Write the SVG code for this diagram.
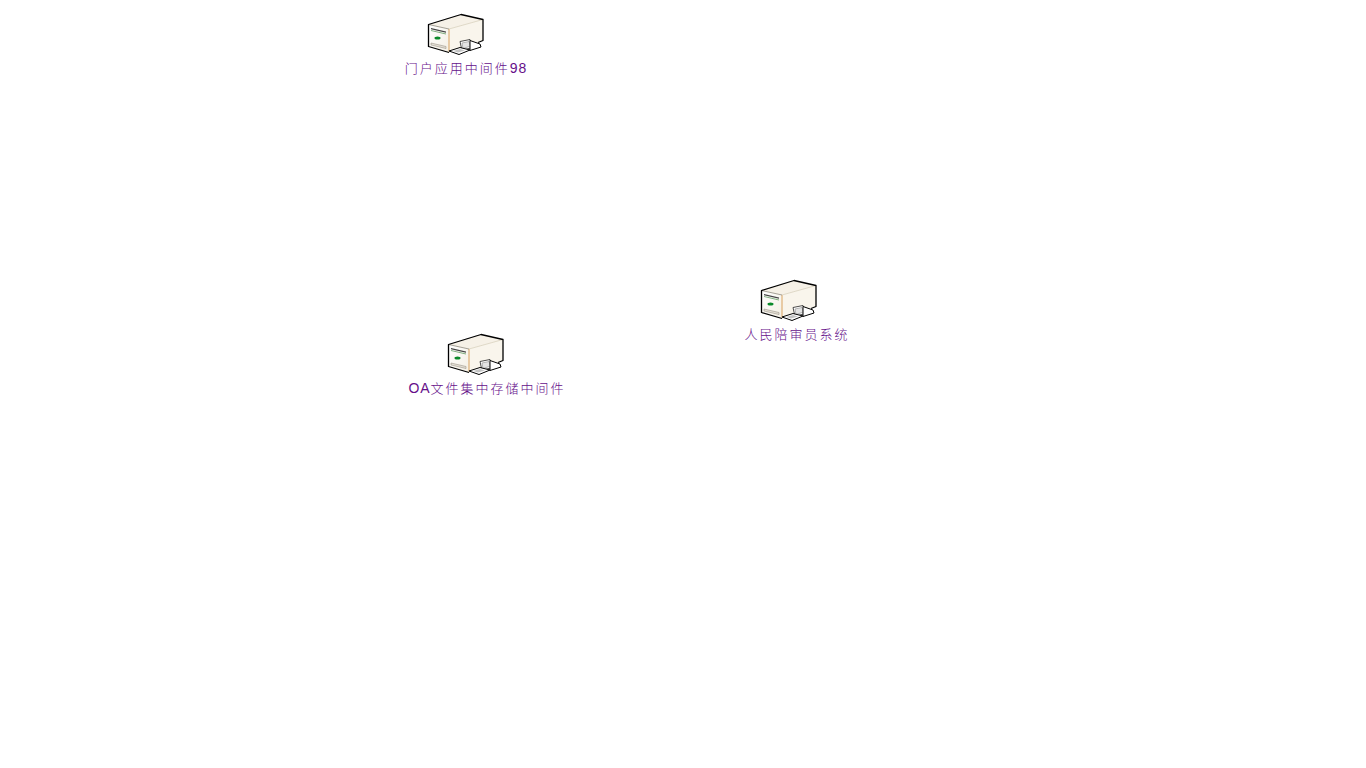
<svg xmlns="http://www.w3.org/2000/svg" width="1366" height="768" viewBox="0 0 1366 768">
<style>
.lbl{font-family:"Liberation Sans","Noto Sans CJK SC",sans-serif;font-size:13px;font-weight:300;letter-spacing:2px;fill:#660f8a;text-anchor:middle}
.lat{font-size:14px;letter-spacing:1px}
</style>
<defs>
<linearGradient id="f" x1="0" y1="0" x2="1" y2="1"><stop offset="0" stop-color="#fff"/><stop offset="1" stop-color="#f4efe4"/></linearGradient>
<g id="srv">
<path d="M0.500 11 L33 1 L55 6 L21 15.500 Z" fill="#f6f1e7"/>
<path d="M21 15.500 L55 6 L55 27 L21 39 Z" fill="#f9f5ec"/>
<path d="M0.500 11 L21 15.500 L21 39 L0.500 33 Z" fill="url(#f)"/>
<path d="M21 15.500 L21 38" fill="none" stroke="#d9a25e" stroke-width="1"/>
<path d="M21 15.500 L55 6" fill="none" stroke="#d8d0bd" stroke-width="0.800"/>
<path d="M0.500 11 L21 15.500" fill="none" stroke="#8f8a7e" stroke-width="0.800"/>
<path d="M21 39 L0.500 33 L0.500 11 L33 1 L55 6 L55 27 L50 29" fill="none" stroke="#000" stroke-width="1.300" stroke-linejoin="round"/>
<path d="M3 14.500 L18 18 L18 19.200 L3 15.700 Z" fill="#444"/>
<path d="M3 17 L18 20.500" stroke="#2e7d32" stroke-width="0.600"/>
<ellipse cx="9.500" cy="24.500" rx="3" ry="1.500" fill="#0a8a2a"/>
<path d="M3 29.500 L18 33 L18 35 L3 31.500 Z" fill="#e5e0d6" stroke="#8a8478" stroke-width="0.500"/>
<path d="M32 28 L42 26 L44 34 L34 37 Z" fill="#fff" stroke="#222" stroke-width="0.800"/>
<path d="M34 29.500 L41 28 L42.500 32.500 L35 35 Z" fill="#e4e4e4" stroke="#777" stroke-width="0.500"/>
<path d="M42 27 L52 30.500 L53 33.500 L42 37 Z" fill="#fff" stroke="#000" stroke-width="1"/>
<path d="M21 37.500 L32 34 L42 36.500 L31 41 Z" fill="#fff" stroke="#000" stroke-width="1"/>
<path d="M25 37.500 L32 35.500 L37 37 L30 39 Z" fill="#c4c4c4"/>
</g>
</defs>
<rect width="1366" height="768" fill="#fff"/>
<g id="connectors"></g>
<g id="node1"><use href="#srv" transform="translate(428,13.500)"/><text class="lbl" x="466" y="72.500">门户应用中间件<tspan class="lat">98</tspan></text></g>
<g id="node2"><use href="#srv" transform="translate(448,333.500)"/><text class="lbl" x="487" y="392.500"><tspan class="lat">OA</tspan>文件集中存储中间件</text></g>
<g id="node3"><use href="#srv" transform="translate(761,279.500)"/><text class="lbl" x="797" y="338.500">人民陪审员系统</text></g>
</svg>
